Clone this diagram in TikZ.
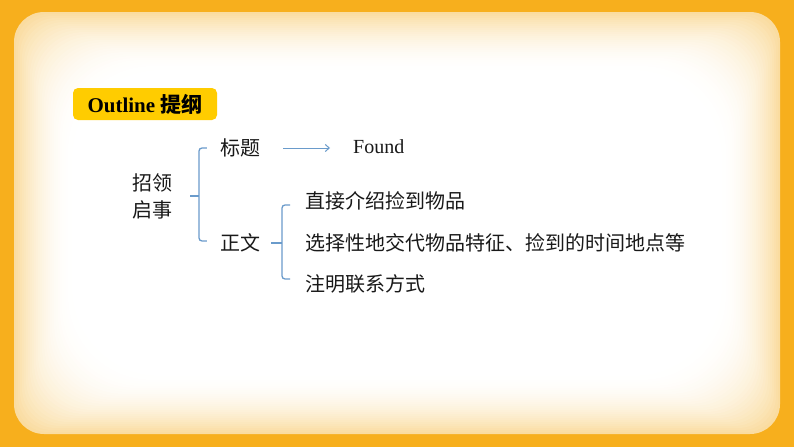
\documentclass[tikz,border=0pt]{standalone}
\usepackage{fontspec}
\usepackage{tikz}
\usetikzlibrary{arrows.meta}
\setmainfont{Liberation Serif}
\newfontfamily\cjk{Noto Sans CJK SC}
\definecolor{frameorange}{HTML}{F7AF1D}
\definecolor{glowcream}{HTML}{FADCA0}
\definecolor{tagyellow}{HTML}{FFCC00}
\definecolor{lineblue}{HTML}{6A9BCB}
\tikzset{
	textstyle/.style={inner sep=0pt,text=black!90,font=\cjk\fontsize{20}{27}\selectfont},
	tagstyle/.style={rectangle,rounded corners=5pt,fill=tagyellow,minimum width=144pt,minimum height=32pt,inner sep=0pt,font=\fontsize{21}{24}\selectfont},
	bracestyle/.style={draw=lineblue,line width=1.3pt,rounded corners=3pt},
	arrowstyle/.style={draw=lineblue,line width=1pt,-{Straight Barb[length=4pt,width=7pt]}}
}

\begin{document}
\begin{tikzpicture}[x=1pt,y=-1pt]
	\useasboundingbox (0,0) rectangle (794,447);
	\fill[frameorange] (0,0) rectangle (794,447);
	\foreach \i [evaluate=\i as \p using 100*(1-\i/30)^2, evaluate=\i as \r using 30+\i*2] in {0,...,30}
		\fill[glowcream!\p!white,rounded corners=\r pt] (14+\i*2,12+\i*2) rectangle (780-\i*2,434-\i*2);
	\node[tagstyle] (tag) at (145,104) {\textbf{Outline} {\cjk\bfseries 提纲}};
	\node[textstyle,align=center] (zhaoling) at (152,196) {招领\\启事};
	\node[textstyle] (biaoti) at (240,148) {标题};
	\node[textstyle] (zhengwen) at (240,243) {正文};
	\node[textstyle,font=\rmfamily\fontsize{20}{24}\selectfont,anchor=west] (found) at (353,147) {Found};
	\node[textstyle,anchor=west] (item1) at (305,201) {直接介绍捡到物品};
	\node[textstyle,anchor=west] (item2) at (305,243) {选择性地交代物品特征、捡到的时间地点等};
	\node[textstyle,anchor=west] (item3) at (305,284) {注明联系方式};
	\coordinate (fork1) at (199,196);
	\coordinate (fork2) at (282,243);
	\draw[bracestyle] ([xshift=-13pt]biaoti.west) -| (fork1) |- ([xshift=-13pt,yshift=2pt]zhengwen.west);
	\draw[bracestyle] ([xshift=18pt]zhaoling.east) -- (fork1);
	\draw[bracestyle] ([xshift=-15pt,yshift=-4pt]item1.west) -| (fork2) |- ([xshift=-15pt,yshift=5pt]item3.west);
	\draw[bracestyle] ([xshift=11pt]zhengwen.east) -- (fork2);
	\draw[arrowstyle] ([xshift=23pt]biaoti.east) -- ([xshift=-23pt]found.west |- biaoti.east);
\end{tikzpicture}
\end{document}
